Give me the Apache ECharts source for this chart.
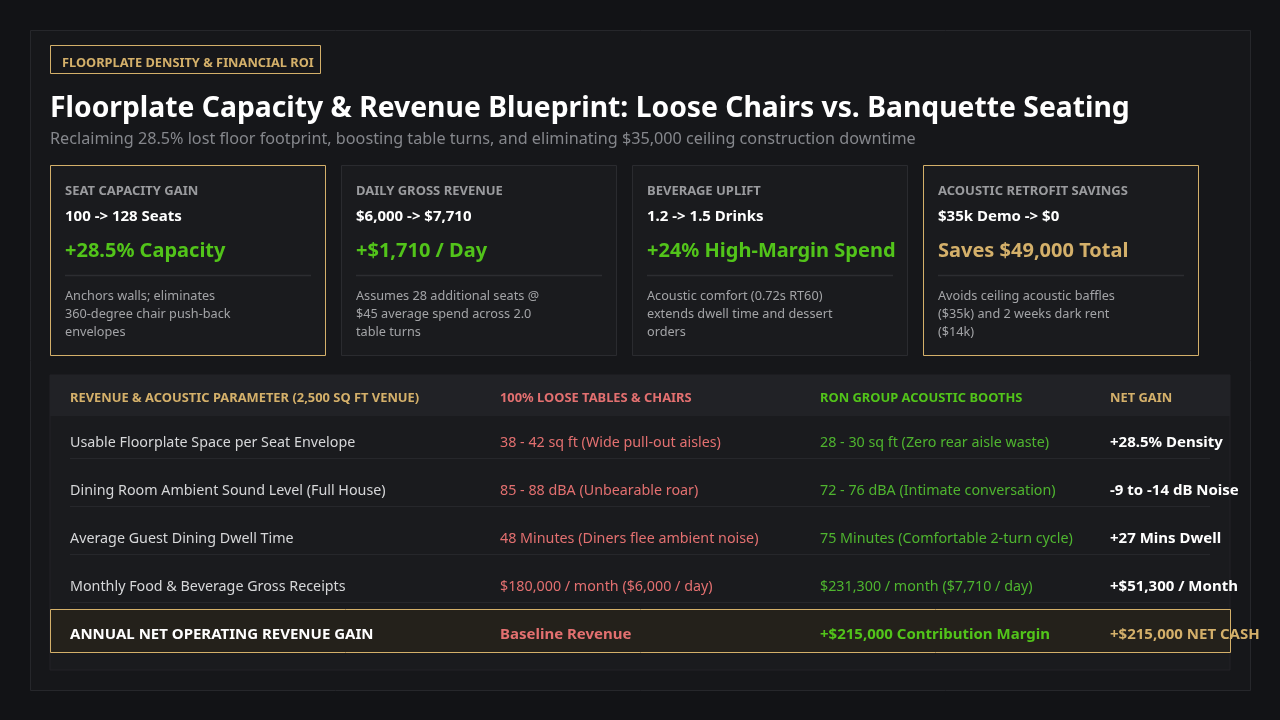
<!DOCTYPE html>
<html>
<head>
<meta charset="utf-8">
<script src="https://cdn.jsdelivr.net/npm/echarts@6/dist/echarts.min.js"></script>
<style>
  html, body { margin: 0; padding: 0; background: #121316; }
  #chart { width: 1280px; height: 720px; }
</style>
</head>
<body>
<div id="chart"></div>
<script>
// header text
const tagText = 'FLOORPLATE DENSITY & FINANCIAL ROI';
const titleText = 'Floorplate Capacity & Revenue Blueprint: Loose Chairs vs. Banquette Seating';
const subtitleText = 'Reclaiming 28.5% lost floor footprint, boosting table turns, and eliminating $35,000 ceiling construction downtime';

// KPI cards
const cardLabels = ['SEAT CAPACITY GAIN', 'DAILY GROSS REVENUE', 'BEVERAGE UPLIFT', 'ACOUSTIC RETROFIT SAVINGS'];
const cardValues = ['100 -> 128 Seats', '$6,000 -> $7,710', '1.2 -> 1.5 Drinks', '$35k Demo -> $0'];
const cardHeadlines = ['+28.5% Capacity', '+$1,710 / Day', '+24% High-Margin Spend', 'Saves $49,000 Total'];
const cardNotes = [
  'Anchors walls; eliminates\n360-degree chair push-back\nenvelopes',
  'Assumes 28 additional seats @\n$45 average spend across 2.0\ntable turns',
  'Acoustic comfort (0.72s RT60)\nextends dwell time and dessert\norders',
  'Avoids ceiling acoustic baffles\n($35k) and 2 weeks dark rent\n($14k)'
];
const cardHighlighted = [true, false, false, true];

// comparison table
const tableHeaders = ['REVENUE & ACOUSTIC PARAMETER (2,500 SQ FT VENUE)', '100% LOOSE TABLES & CHAIRS', 'RON GROUP ACOUSTIC BOOTHS', 'NET GAIN'];
const paramNames = [
  'Usable Floorplate Space per Seat Envelope',
  'Dining Room Ambient Sound Level (Full House)',
  'Average Guest Dining Dwell Time',
  'Monthly Food & Beverage Gross Receipts'
];
const looseValues = [
  '38 - 42 sq ft (Wide pull-out aisles)',
  '85 - 88 dBA (Unbearable roar)',
  '48 Minutes (Diners flee ambient noise)',
  '$180,000 / month ($6,000 / day)'
];
const boothValues = [
  '28 - 30 sq ft (Zero rear aisle waste)',
  '72 - 76 dBA (Intimate conversation)',
  '75 Minutes (Comfortable 2-turn cycle)',
  '$231,300 / month ($7,710 / day)'
];
const netGains = ['+28.5% Density', '-9 to -14 dB Noise', '+27 Mins Dwell', '+$51,300 / Month'];
const totalRow = ['ANNUAL NET OPERATING REVENUE GAIN', 'Baseline Revenue', '+$215,000 Contribution Margin', '+$215,000 NET CASH'];

const FONT = '"Noto Sans", "DejaVu Sans", sans-serif';
const GOLD = '#d4b06a';
const GREEN = '#52c41a';
const GREEN_SOFT = '#4fb52f';
const RED = '#e37070';
const colX = [70, 500, 820, 1110];
const headerColors = [GOLD, RED, GREEN, GOLD];

const elements = [];

// outer panel
elements.push({
  type: 'rect', shape: { x: 30.5, y: 30.5, width: 1220, height: 660 },
  style: { fill: '#16171a', stroke: '#26272b', lineWidth: 1 }
});

// tag
elements.push({
  type: 'rect', shape: { x: 50.5, y: 45.5, width: 270, height: 28 },
  style: { fill: '#17171a', stroke: GOLD, lineWidth: 1 }
});
elements.push({
  type: 'text', x: 62, y: 63,
  style: { text: tagText, fill: GOLD, font: 'bold 12.8px ' + FONT, textVerticalAlign: 'middle' }
});

// title + subtitle
elements.push({
  type: 'text', x: 50, y: 109,
  style: { text: titleText, fill: '#ffffff', font: 'bold 28.3px ' + FONT, textVerticalAlign: 'middle' }
});
elements.push({
  type: 'text', x: 50, y: 139,
  style: { text: subtitleText, fill: '#85878c', font: '16.2px ' + FONT, textVerticalAlign: 'middle' }
});

// cards
cardLabels.forEach((label, i) => {
  const x = 50 + i * 291;
  elements.push({
    type: 'rect', shape: { x: x + 0.5, y: 165.5, width: 275, height: 190 },
    style: { fill: '#1a1b1e', stroke: cardHighlighted[i] ? GOLD : '#2a2b2f', lineWidth: 1 }
  });
  elements.push({
    type: 'text', x: x + 15, y: 191,
    style: { text: label, fill: '#9a9b9e', font: 'bold 13px ' + FONT, textVerticalAlign: 'middle' }
  });
  elements.push({
    type: 'text', x: x + 15, y: 217,
    style: { text: cardValues[i], fill: '#ffffff', font: 'bold 15px ' + FONT, textVerticalAlign: 'middle' }
  });
  elements.push({
    type: 'text', x: x + 15, y: 251,
    style: { text: cardHeadlines[i], fill: i === 3 ? GOLD : GREEN, font: 'bold 20px ' + FONT, textVerticalAlign: 'middle' }
  });
  elements.push({
    type: 'line', shape: { x1: x + 15, y1: 275.5, x2: x + 261, y2: 275.5 },
    style: { stroke: '#2c2d31', lineWidth: 1.5 }
  });
  elements.push({
    type: 'text', x: x + 15, y: 287,
    style: { text: cardNotes[i], fill: '#a3a4a7', font: '12.7px ' + FONT, lineHeight: 18, textVerticalAlign: 'top' }
  });
});

// table
elements.push({
  type: 'rect', shape: { x: 50, y: 375, width: 1180, height: 295 },
  style: { fill: '#1a1b1e', stroke: '#222327', lineWidth: 1 }
});
elements.push({
  type: 'rect', shape: { x: 50, y: 375, width: 1180, height: 41 },
  style: { fill: '#212226' }
});
tableHeaders.forEach((h, c) => {
  elements.push({
    type: 'text', x: colX[c], y: 398,
    style: { text: h, fill: headerColors[c], font: 'bold 12.9px ' + FONT, textVerticalAlign: 'middle' }
  });
});

paramNames.forEach((name, r) => {
  const cy = 441 + r * 48;
  const cells = [name, looseValues[r], boothValues[r], netGains[r]];
  const colors = ['#d6d7d9', RED, GREEN_SOFT, '#ffffff'];
  cells.forEach((t, c) => {
    elements.push({
      type: 'text', x: colX[c], y: cy + 1.5,
      style: { text: t, fill: colors[c], font: (c === 3 ? 'bold 15px ' : '14.3px ') + FONT, textVerticalAlign: 'middle' }
    });
  });
  elements.push({
    type: 'line', shape: { x1: 70, y1: cy + 17.5, x2: 1210, y2: cy + 17.5 },
    style: { stroke: '#26272b', lineWidth: 1 }
  });
});

// total row
elements.push({
  type: 'rect', shape: { x: 50.5, y: 609.5, width: 1180, height: 43 },
  style: { fill: '#24211b', stroke: GOLD, lineWidth: 1 }
});
const totalColors = ['#ffffff', RED, GREEN, GOLD];
totalRow.forEach((t, c) => {
  elements.push({
    type: 'text', x: colX[c], y: 634.5,
    style: { text: t, fill: totalColors[c], font: 'bold 15px ' + FONT, textVerticalAlign: 'middle' }
  });
});

const chart = echarts.init(document.getElementById('chart'));
chart.setOption({
  backgroundColor: '#121316',
  graphic: { elements: elements }
});
</script>
</body>
</html>
